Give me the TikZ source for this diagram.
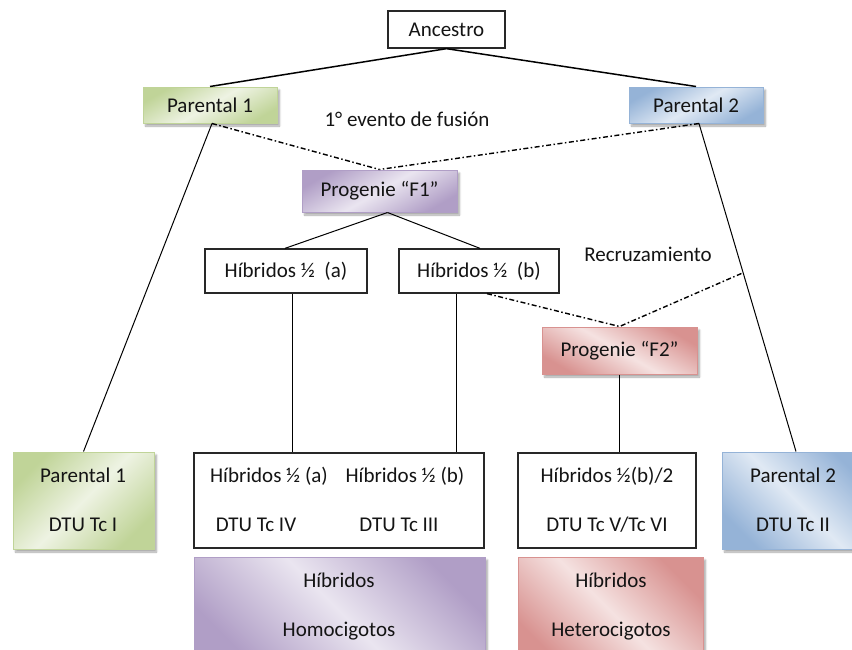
\documentclass[tikz,border=0pt]{standalone}
\usepackage{fontspec}
\setmainfont{Carlito}
\usetikzlibrary{calc,shadows.blur}

% fills: dark / light tone of each colour family
\definecolor{grnD}{RGB}{192,212,152}
\definecolor{grnL}{RGB}{238,243,227}
\definecolor{bluD}{RGB}{149,179,215}
\definecolor{bluL}{RGB}{224,233,244}
\definecolor{purD}{RGB}{176,158,198}
\definecolor{purL}{RGB}{234,229,240}
\definecolor{redD}{RGB}{216,146,144}
\definecolor{redL}{RGB}{245,226,225}
\definecolor{txt}{RGB}{20,20,20}
\definecolor{frame}{RGB}{40,40,40}

\tikzset{
  every node/.style={font=\fontsize{21}{24}\selectfont, text=txt},
  plainbox/.style={draw=frame, line width=1.3pt, fill=white, inner sep=0pt},
  shadebox/.style 2 args={draw=#1D, line width=1pt, inner sep=0pt,
    top color=#1D, bottom color=#1D, middle color=#1L, shading angle=#2,
    blur shadow={shadow xshift=2.5pt, shadow yshift=-3pt,
                 shadow blur steps=6, shadow opacity=35}},
  caption/.style={anchor=base, inner sep=0pt},
  link/.style={line width=1pt, draw=black},
  toplink/.style={line width=1.5pt, draw=black},
  cross/.style={line width=1.4pt, draw=black,
    dash pattern=on 5pt off 2.5pt on 1.5pt off 2.5pt},
}

\begin{document}
\begin{tikzpicture}[x=1pt, y=-1pt]
  \useasboundingbox (0,0) rectangle (852,649);
  \clip (0,0) rectangle (852,649);

  % ---- upper generations ----
  \node[plainbox, minimum width=117pt, minimum height=37pt] (anc) at (446.5,29.5) {Ancestro};
  \node[shadebox={grn}{30}, minimum width=134pt, minimum height=36pt] (par1) at (210,105) {Parental 1};
  \node[shadebox={blu}{30}, minimum width=134pt, minimum height=36pt] (par2) at (696,105) {Parental 2};
  \node[caption] (fus) at (407,126) {1° evento de fusión};

  \node[shadebox={pur}{30}, minimum width=155pt, minimum height=42pt] (f1) at (379.5,191) {Progenie “F1”};

  \node[plainbox, minimum width=162pt, minimum height=44pt] (hya) at (286,271) {Híbridos ½\ \ (a)};
  \node[plainbox, minimum width=160pt, minimum height=44pt] (hyb) at (479,271) {Híbridos ½\ \ (b)};
  \node[caption] (recr) at (648,261) {Recruzamiento};

  \node[shadebox={red}{-30}, minimum width=155pt, minimum height=47pt] (f2) at (619.5,350.5) {Progenie “F2”};

  % ---- lower row ----
  \node[shadebox={grn}{45}, minimum width=141pt, minimum height=97pt] (pb1) at (83.5,500.5) {};
  \node[plainbox, minimum width=290pt, minimum height=95pt] (big) at (339,500.5) {};
  \node[plainbox, minimum width=178pt, minimum height=95pt] (mid) at (607,500.5) {};
  \node[shadebox={blu}{-45}, minimum width=148pt, minimum height=97pt] (pb2) at (796,500.5) {};

  \node[shadebox={pur}{-45}, minimum width=291pt, minimum height=108pt] (hom) at (339.5,611) {};
  \node[shadebox={red}{-45}, minimum width=185pt, minimum height=108pt] (het) at (610.5,611) {};

  % ---- captions inside the lower boxes ----
  \node[caption] (pb1a) at (83,482) {Parental 1};
  \node[caption] (pb1b) at (83,531) {DTU Tc I};
  \node[caption] (biga) at (269,482) {Híbridos ½ (a)};
  \node[caption] (bigb) at (405,482) {Híbridos ½ (b)};
  \node[caption] (bigc) at (256,531) {DTU Tc IV};
  \node[caption] (bigd) at (399,531) {DTU Tc III};
  \node[caption] (mida) at (607,482) {Híbridos ½(b)/2};
  \node[caption] (midb) at (607,531) {DTU Tc V/Tc VI};
  \node[caption] (pb2a) at (793,482) {Parental 2};
  \node[caption] (pb2b) at (793,531) {DTU Tc II};
  \node[caption] (homa) at (339,587) {Híbridos};
  \node[caption] (homb) at (339,636) {Homocigotos};
  \node[caption] (heta) at (611,587) {Híbridos};
  \node[caption] (hetb) at (611,636) {Heterocigotos};

  % ---- connectors ----
  \draw[toplink] (anc.south) -- (par1.north);
  \draw[toplink] (anc.south) -- (par2.north);

  \draw[link] ([xshift=2pt]par1.south) -- (pb1.north);
  \draw[link] ([xshift=3pt]par2.south) -- (pb2.north);
  \coordinate (rx) at ($([xshift=3pt]par2.south)!0.455!(pb2.north)$);

  \draw[cross] ([xshift=2pt]par1.south) -- (f1.north);
  \draw[cross] ([xshift=3pt]par2.south) -- (f1.north);

  \draw[link] ([xshift=8pt]f1.south) -- ([xshift=-1pt]hya.north);
  \draw[link] ([xshift=8pt]f1.south) -- ([xshift=1pt]hyb.north);

  \draw[link] ([xshift=6pt]hya.south) -- ([xshift=6pt]hya.south |- big.north);
  \draw[link] ([xshift=-23pt]hyb.south) -- ([xshift=-23pt]hyb.south |- big.north);

  \draw[cross] ([xshift=8pt]hyb.south) -- (f2.north) -- (rx);
  \draw[link] (f2.south) -- (f2.south |- mid.north);
\end{tikzpicture}
\end{document}
